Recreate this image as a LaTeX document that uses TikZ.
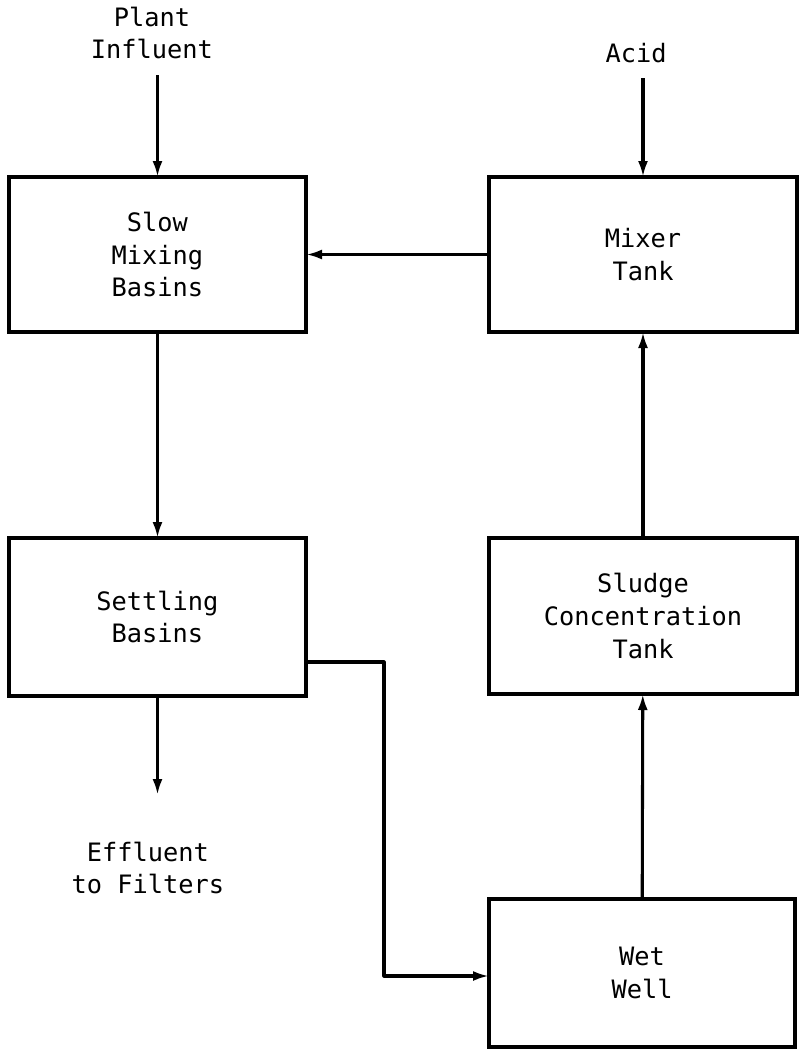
\documentclass[tikz,border=0pt]{standalone}
\usepackage{fontspec}
\newfontfamily\flowfont{DejaVu Sans Mono}
\usepackage{tikz}
\usetikzlibrary{arrows.meta}
\tikzstyle{tank}=[draw, line width=2.8pt, align=center, inner sep=0pt, outer sep=0pt,
  font=\flowfont\fontsize{19}{24.4}\selectfont]
\tikzstyle{tag}=[align=center, inner sep=0pt,
  font=\flowfont\fontsize{19}{24.4}\selectfont]
\tikzstyle{flow}=[line width=2.3pt, line join=round, -{Latex[length=12pt,width=7.5pt]}]
\newcommand{\tank}{\node[tank]}

\begin{document}
\begin{tikzpicture}[x=0.75pt, y=-0.75pt]
	\useasboundingbox (0,0) rectangle (799,1050);
	%% the treatment units
	\tank (slow) at (157.5,254.5) [minimum width=222.75pt, minimum height=116.25pt] {Slow\\Mixing\\Basins};
	\tank (mixer) at (643,254.5) [minimum width=231pt, minimum height=116.25pt] {Mixer\\Tank};
	\tank (settling) at (157.5,617) [minimum width=222.75pt, minimum height=118.5pt] {Settling\\Basins};
	\tank (sludge) at (643,616) [minimum width=231pt, minimum height=117pt] {Sludge\\Concentration\\Tank};
	\tank (wetwell) at (642,973) [minimum width=229.5pt, minimum height=111pt] {Wet\\Well};
	%% the inflows and outflows
	\node[tag] (influent) at (152,33) {Plant\\Influent};
	\node[tag] (acid) at (636,53) {Acid};
	\node[tag] (effluent) at (148,868) {Effluent\\to Filters};
	\coordinate (inflow) at (157.5,75);
	\coordinate (acidin) at (643,78);
	\coordinate (outflow) at (157.5,795);
	\coordinate (turn1) at (384,662);
	\coordinate (turn2) at (384,976);
	%% for the flows
	\draw[flow] (inflow) -- (slow.north);
	\draw[flow] (acidin) -- (mixer.north);
	\draw[flow] (mixer) -- (slow);
	\draw[flow] (slow) -- (settling);
	\draw[flow] (settling) -- (outflow);
	\draw[flow] (wetwell) -- (sludge);
	\draw[flow] (sludge) -- (mixer);
	\draw[flow] (settling.east |- turn1) -- (turn1) -- (turn2) -- (turn2 -| wetwell.west);
\end{tikzpicture}
\end{document}
